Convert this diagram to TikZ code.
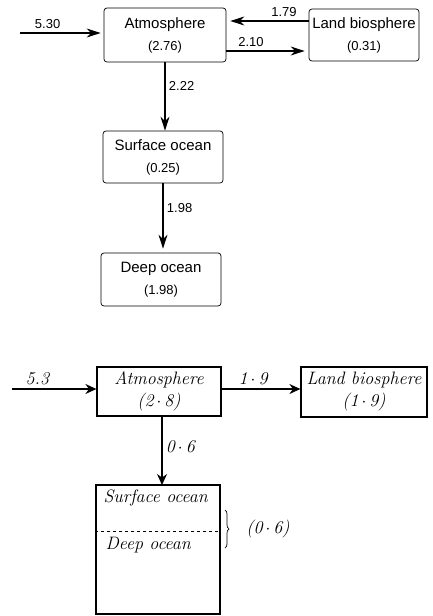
\documentclass[tikz,border=0pt]{standalone}
\usepackage{fontspec}
\newfontfamily\helv{Liberation Sans}
\usetikzlibrary{arrows.meta,decorations.pathreplacing}

\begin{document}
\begin{tikzpicture}[x=1pt,y=-1pt,>={Stealth[length=14pt,width=9pt]},
		rbox/.style={draw,rounded corners=3pt,line width=0.7pt,align=center,inner sep=2pt,
			font=\helv\fontsize{15}{22}\selectfont},
		hbox/.style={draw,line width=1.2pt,align=center,inner sep=2pt,
			font=\itshape\fontsize{18}{22}\selectfont},
		flow/.style={->,line width=1.2pt},
		hflow/.style={-{Stealth[length=11pt,width=10pt]},line width=1.3pt},
		num/.style={font=\helv\fontsize{13}{15}\selectfont},
		hnum/.style={font=\itshape\fontsize{18}{20}\selectfont}]

			\useasboundingbox (0,0) rectangle (432,616);

			% top: box model
			\node[rbox,minimum width=122pt,minimum height=54pt] (atm1) at (165,35) {Atmosphere\\{\fontsize{13}{15}\selectfont(2.76)}};
			\node[rbox,minimum width=110pt,minimum height=52pt] (land1) at (364,35) {Land biosphere\\{\fontsize{13}{15}\selectfont(0.31)}};
			\node[rbox,minimum width=120pt,minimum height=52pt] (surf1) at (163,157) {Surface ocean\\{\fontsize{13}{15}\selectfont(0.25)}};
			\node[rbox,minimum width=120pt,minimum height=53pt] (deep1) at (161,279.5) {Deep ocean\\{\fontsize{13}{15}\selectfont(1.98)}};

			\coordinate (in1) at (20,33);
			\draw[flow,shorten >=3pt] (in1) -- (atm1.west|-in1) node[num,pos=0.33,above]{5.30};
			\draw[flow,shorten >=4pt] ([yshift=14pt]land1.west) -- ([yshift=14pt]atm1.east) node[num,pos=0.3,above]{1.79};
			\draw[flow,shorten >=4pt] ([yshift=-16pt]atm1.east) -- ([yshift=-16pt]land1.west) node[num,pos=0.3,above]{2.10};
			\draw[flow] (atm1.south) -- (atm1.south|-surf1.north) node[num,pos=0.35,right]{2.22};
			\draw[flow,shorten >=4pt] (surf1.south) -- (surf1.south|-deep1.north) node[num,pos=0.35,right]{1.98};

			% bottom: combined ocean
			\node[hbox,minimum width=124pt,minimum height=49pt] (atm2) at (159,391.5) {Atmosphere\\(2\,$\cdot$\,8)};
			\node[hbox,minimum width=126pt,minimum height=50pt] (land2) at (364,392) {Land biosphere\\(1\,$\cdot$\,9)};
			\node[draw,line width=1.2pt,minimum width=124pt,minimum height=129pt] (ocean2) at (158,549.5) {};
			\draw[dashed,line width=0.6pt] (ocean2.west|-0,531) -- (ocean2.east|-0,531);
			\node[hnum,anchor=west] (surf2) at (100,498) {Surface ocean};
			\node[hnum,anchor=west] (deep2) at (102,545) {Deep ocean};

			\coordinate (in2) at (12,389);
			\draw[hflow] (in2) -- (atm2.west|-in2) node[hnum,pos=0.3,above]{5.3};
			\draw[hflow] (atm2.east|-in2) -- (land2.west|-in2) node[hnum,pos=0.4,above]{1\,$\cdot$\,9};
			\draw[hflow] (162,416) -- (162,485) node[hnum,pos=0.45,right]{0\,$\cdot$\,6};
			\draw[decorate,decoration={brace,amplitude=4pt},line width=0.7pt] (225,510) -- (225,548);
			\node[hnum] (ocn) at (268,529) {(0\,$\cdot$\,6)};
		\end{tikzpicture}
\end{document}
